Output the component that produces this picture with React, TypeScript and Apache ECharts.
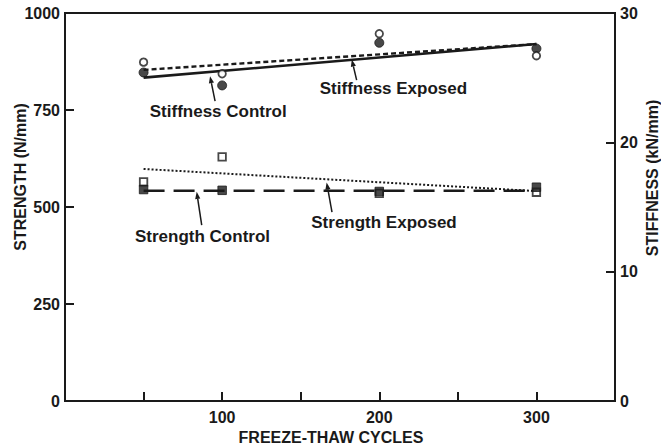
import { useEffect, useRef } from "react";
import * as echarts from "echarts";

const cycles = [50, 100, 200, 300];
const strengthControl = [545, 543, 540, 551];
const strengthExposed = [565, 629, 535, 538];
const stiffnessControl = [25.4, 24.4, 27.7, 27.25];
const stiffnessExposed = [26.2, 25.3, 28.4, 26.7];

const fitCycles = [50, 300];
const strengthControlFit = [542, 542];
const strengthExposedFit = [598, 541];
const stiffnessControlFit = [25.0, 27.6];
const stiffnessExposedFit = [25.6, 27.6];

const xTickLabels = [100, 200, 300];

// annotation positions in (cycles, strength) data coordinates
const annotationLabels = ["Stiffness Control", "Stiffness Exposed", "Strength Control", "Strength Exposed"];
const annotationText = [[97.5, 746], [209, 806], [87.5, 424], [203, 461]];
const arrowFrom = [[95.5, 773], [185.6, 827], [87, 453], [169.9, 487]];
const arrowTo = [[92.3, 837], [182.5, 880], [83.8, 539], [166.5, 563]];

const FONT = "'Liberation Sans', Arial, sans-serif";
const INK = "#1a1a1a";

const pairs = (xs: number[], ys: number[]) => xs.map((x, i) => [x, ys[i]]);

export default function App() {
  const ref = useRef<HTMLDivElement>(null);
  useEffect(() => {
    const chart = echarts.init(ref.current!, null, { renderer: "svg" });
    const axisLine = { show: true, lineStyle: { color: INK, width: 2 } };
    const tickStyle = { show: true, inside: true, length: 9, lineStyle: { color: INK, width: 2 } };
    const labelStyle = { color: INK, fontFamily: FONT, fontWeight: "bold" as const, fontSize: 16 };
    const nameStyle = { color: INK, fontFamily: FONT, fontWeight: "bold" as const, fontSize: 16 };
    const openMarker = { color: "#fff", borderColor: INK, borderWidth: 1.8 };
    const filledMarker = { color: INK, borderColor: INK, borderWidth: 1 };

    chart.setOption({
      animation: false,
      backgroundColor: "#fff",
      grid: {
        left: 65,
        right: 46,
        top: 13,
        bottom: 44,
        containLabel: false,
        outerBoundsMode: "none",
        show: true,
        borderColor: INK,
        borderWidth: 2,
      },
      xAxis: {
        type: "value",
        min: 0,
        max: 350,
        interval: 50,
        name: "FREEZE-THAW CYCLES",
        nameLocation: "middle",
        nameGap: 28,
        nameMoveOverlap: false,
        nameTextStyle: { ...nameStyle, padding: [0, 18, 0, 0] },
        axisLine,
        axisTick: tickStyle,
        splitLine: { show: false },
        axisLabel: {
          ...labelStyle,
          margin: 8,
          formatter: (v: number) => (xTickLabels.includes(v) ? String(v) : ""),
        },
      },
      yAxis: [
        {
          type: "value",
          min: 0,
          max: 1000,
          interval: 250,
          name: "STRENGTH (N/mm)",
          nameLocation: "middle",
          nameGap: 37,
          nameRotate: 90,
          nameMoveOverlap: false,
          nameTextStyle: { ...nameStyle, padding: [0, 0, 0, 60] },
          axisLine,
          axisTick: tickStyle,
          splitLine: { show: false },
          axisLabel: { ...labelStyle, margin: 5, formatter: (v: number) => String(v) },
        },
        {
          type: "value",
          min: 0,
          max: 30,
          interval: 10,
          position: "right",
          name: "STIFFNESS (kN/mm)",
          nameLocation: "middle",
          nameGap: 29,
          nameRotate: 90,
          nameMoveOverlap: false,
          nameTextStyle: { ...nameStyle, padding: [0, 0, 0, 58] },
          axisLine,
          axisTick: tickStyle,
          splitLine: { show: false },
          axisLabel: { ...labelStyle, margin: 5, formatter: (v: number) => String(v) },
        },
      ],
      series: [
        {
          name: "Stiffness Control fit",
          type: "line",
          yAxisIndex: 1,
          data: pairs(fitCycles, stiffnessControlFit),
          showSymbol: false,
          lineStyle: { color: INK, width: 2.6, type: "solid" },
          z: 2,
        },
        {
          name: "Stiffness Exposed fit",
          type: "line",
          yAxisIndex: 1,
          data: pairs(fitCycles, stiffnessExposedFit),
          showSymbol: false,
          lineStyle: { color: INK, width: 2.4, type: [5, 3] },
          z: 2,
        },
        {
          name: "Strength Control fit",
          type: "line",
          yAxisIndex: 0,
          data: pairs(fitCycles, strengthControlFit),
          showSymbol: false,
          lineStyle: { color: INK, width: 2.4, type: [21, 9] },
          z: 2,
        },
        {
          name: "Strength Exposed fit",
          type: "line",
          yAxisIndex: 0,
          data: pairs(fitCycles, strengthExposedFit),
          showSymbol: false,
          lineStyle: { color: INK, width: 2, type: [2, 2] },
          z: 2,
        },
        {
          name: "Stiffness Control",
          type: "scatter",
          yAxisIndex: 1,
          data: pairs(cycles, stiffnessControl),
          symbol: "circle",
          symbolSize: 9,
          itemStyle: filledMarker,
          z: 3,
        },
        {
          name: "Stiffness Exposed",
          type: "scatter",
          yAxisIndex: 1,
          data: pairs(cycles, stiffnessExposed),
          symbol: "circle",
          symbolSize: 7.5,
          itemStyle: openMarker,
          z: 3,
        },
        {
          name: "Strength Exposed",
          type: "scatter",
          yAxisIndex: 0,
          data: pairs(cycles, strengthExposed),
          symbol: "rect",
          symbolSize: 7.5,
          itemStyle: openMarker,
          z: 3,
        },
        {
          name: "Strength Control",
          type: "scatter",
          yAxisIndex: 0,
          data: pairs(cycles, strengthControl),
          symbol: "rect",
          symbolSize: 8.5,
          itemStyle: filledMarker,
          z: 4,
        },
      ],
    });

    const toPx = (p: number[]) => chart.convertToPixel({ xAxisIndex: 0, yAxisIndex: 0 }, p) as number[];
    const elements: any[] = [];
    annotationLabels.forEach((label, i) => {
      const t = toPx(annotationText[i]);
      elements.push({
        type: "text",
        x: t[0],
        y: t[1],
        z: 10,
        style: {
          text: label,
          fill: INK,
          font: `bold 17px ${FONT}`,
          align: "center",
          verticalAlign: "middle",
        },
      });
      const a = toPx(arrowFrom[i]);
      const b = toPx(arrowTo[i]);
      const dx = b[0] - a[0];
      const dy = b[1] - a[1];
      const len = Math.hypot(dx, dy);
      const ux = dx / len;
      const uy = dy / len;
      const head = 7;
      const half = 2.6;
      const bx = b[0] - ux * head;
      const by = b[1] - uy * head;
      elements.push({
        type: "line",
        z: 10,
        shape: { x1: a[0], y1: a[1], x2: bx, y2: by },
        style: { stroke: INK, lineWidth: 1.5 },
      });
      elements.push({
        type: "polygon",
        z: 10,
        shape: {
          points: [
            [b[0], b[1]],
            [bx - uy * half, by + ux * half],
            [bx + uy * half, by - ux * half],
          ],
        },
        style: { fill: INK },
      });
    });
    chart.setOption({ graphic: elements });

    return () => chart.dispose();
  }, []);
  return (
    <div
      ref={ref}
      style={{ position: "fixed", left: 0, top: 0, width: 661, height: 445, background: "#fff" }}
    />
  );
}
